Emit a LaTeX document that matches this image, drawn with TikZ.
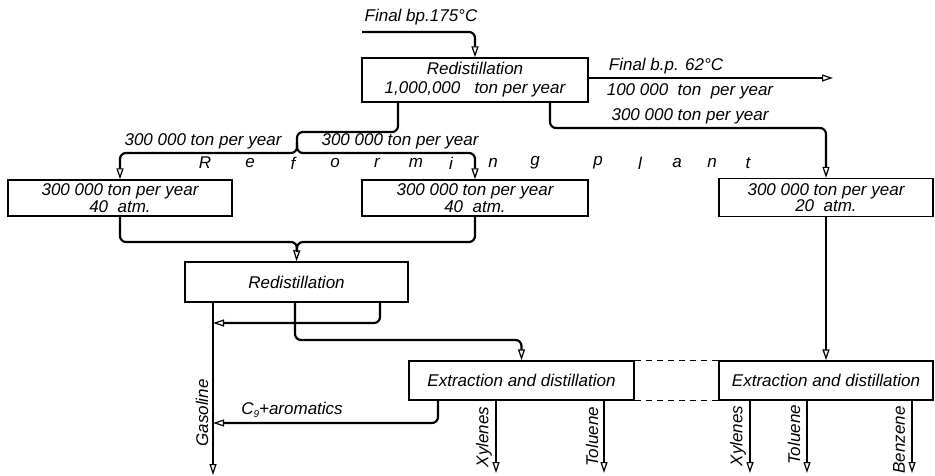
\documentclass[tikz,border=0pt]{standalone}
\usepackage{fontspec}
\setmainfont{Liberation Sans}
\usetikzlibrary{arrows.meta}
\newcommand\dgfont{\itshape\fontsize{17}{15}\selectfont}
\begin{document}
\begin{tikzpicture}[x=1pt,y=-1pt,
  box/.style={draw, line width=1.4pt, inner sep=0pt, align=center, font=\dgfont},
  flow/.style={line width=2.2pt, rounded corners=6pt},
  arr/.style={-{Triangle[open,length=11pt,width=7pt,line width=1.2pt]}},
  lbl/.style={font=\dgfont, inner sep=0pt},
  vlbl/.style={font=\dgfont, inner sep=0pt, rotate=90},
  dashline/.style={line width=1.4pt, dash pattern=on 6pt off 5pt}]
\useasboundingbox (0,0) rectangle (935,476);

% boxes
\node[box, minimum width=226pt, minimum height=44pt] (top) at (475,80) {Redistillation\\[4pt]1,000,000\ \ \ ton per year};
\node[box, minimum width=224pt, minimum height=36pt] (refL) at (120,198) {300 000 ton per year\\40\ \ atm.};
\node[box, minimum width=226pt, minimum height=36pt] (refM) at (475,198) {300 000 ton per year\\40\ \ atm.};
\node[box, minimum width=214pt, minimum height=38pt] (refR) at (826,197.5) {300 000 ton per year\\20\ \ atm.};
\node[box, minimum width=223pt, minimum height=40pt] (lowR) at (296.5,282) {Redistillation};
\node[box, minimum width=225pt, minimum height=39pt] (extL) at (521.5,380.5) {Extraction and distillation};
\node[box, minimum width=214pt, minimum height=39pt] (extR) at (826,380.5) {Extraction and distillation};

% coordinates
\coordinate (feed) at (362,32);
\coordinate (o62) at (833,78);
\coordinate (b1) at (550,128);
\coordinate (b2) at (398,132);
\coordinate (j1) at (297,153);
\coordinate (j1a) at (297,143);
\coordinate (m) at (297,242);
\coordinate (gas) at (213,475);
\coordinate (r1) at (380,323);
\coordinate (r2) at (295,340);
\coordinate (c9) at (438,423);
\coordinate (xL1) at (496,473);
\coordinate (xL2) at (604,473);
\coordinate (xR1) at (750,473);
\coordinate (xR2) at (807,473);
\coordinate (xR3) at (912,473);

% connectors
\draw[flow,arr] (feed) -| (top.north);
\draw[flow,arr] (top.east |- o62) -- (o62);
\draw[flow,arr] (top.south -| b1) |- (refR.north |- b1) -- (refR.north);
\draw[flow,arr] (top.south -| b2) |- (j1 |- b2) -- (j1) -| (refL.north);
\draw[flow,arr] (j1a) -- (j1) -| (refM.north);
\draw[flow,arr] (refL.south) |- (m) -- (lowR.north);
\draw[flow] (refM.south) |- (m) -- ++(0,10);
\draw[flow,arr] (lowR.south -| gas) -- (gas);
\draw[flow,arr] (lowR.south -| r1) |- (gas |- r1);
\draw[flow,arr] (lowR.south -| r2) |- (extL.north |- r2) -- (extL.north);
\draw[flow,arr] (extL.south -| c9) |- (gas |- c9);
\draw[flow,arr] (refR.south) -- (extR.north);
\draw[flow,arr] (extL.south -| xL1) -- (xL1);
\draw[flow,arr] (extL.south -| xL2) -- (xL2);
\draw[flow,arr] (extR.south -| xR1) -- (xR1);
\draw[flow,arr] (extR.south -| xR2) -- (xR2);
\draw[flow,arr] (extR.south -| xR3) -- (xR3);
\draw[dashline] (extL.north east) -- (extR.north west);
\draw[dashline] (extL.south east) -- (extR.south west);

% labels
\node[lbl] (t175) at (421,17) {Final bp.175°C};
\node[lbl] (t62) at (666,66) {Final b.p. 62°C};
\node[lbl] (t100) at (690,91) {100 000\ \ ton\ \ per year};
\node[lbl] (t300r) at (690,116) {300 000 ton per year};
\node[lbl] (t300a) at (203,141) {300 000 ton per year};
\node[lbl] (t300b) at (400,141) {300 000 ton per year};
\foreach \ch/\xx [count=\i] in {R/205,e/250,f/293,o/335,r/377,m/416,i/451,n/493,g/535,p/598,l/640,a/677,n/712,t/748}
  \node[lbl] (rp\i) at (\xx,163) {\ch};
\node[lbl] (c9l) at (292,410) {C\raisebox{-3pt}{\fontsize{10}{10}\selectfont 9}+aromatics};
\node[vlbl] (gasl) at (202,413) {Gasoline};
\node[vlbl] (xyl1) at (484,437) {Xylenes};
\node[vlbl] (tol1) at (592,437) {Toluene};
\node[vlbl] (xyl2) at (738,436) {Xylenes};
\node[vlbl] (tol2) at (794,435) {Toluene};
\node[vlbl] (benz) at (899,440) {Benzene};
\end{tikzpicture}
\end{document}
